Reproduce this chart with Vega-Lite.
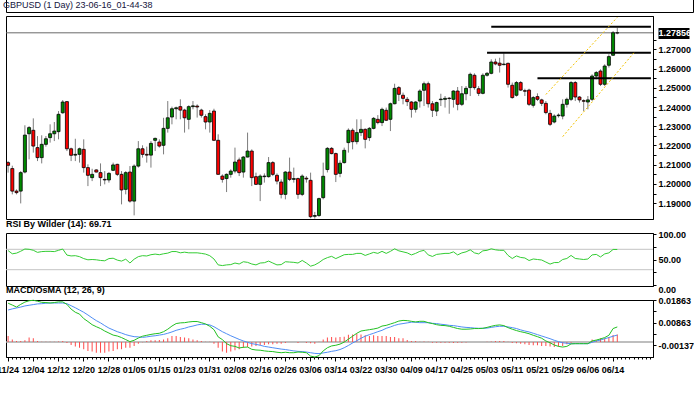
{
"$schema": "https://vega.github.io/schema/vega-lite/v6.json",
"background": "white",
"padding": {"left": -4, "top": -3, "right": 0, "bottom": 0},
"spacing": 1,
"config": {
  "view": {"stroke": "black", "strokeWidth": 1},
  "font": "Liberation Sans Narrow, Liberation Sans",
  "axis": {"labelFont": "Liberation Sans Narrow, Liberation Sans", "labelFontSize": 9, "labelFontWeight": "bold", "labelColor": "black", "tickColor": "black", "domainColor": "black", "grid": false},
  "title": {"font": "Liberation Sans Narrow, Liberation Sans", "fontSize": 9, "fontWeight": "bold", "anchor": "start", "color": "black", "offset": 1, "frame": "group"}
},
"datasets": {
"k": [
{"d":"11/24","o":1.2111,"h":1.2119,"l":1.2059,"c":1.2097,"r":67.5,"m":0.0172,"s":0.0142,"hi":0.0027},
{"d":"11/27","o":1.2080,"h":1.2095,"l":1.1946,"c":1.1963,"r":61.2,"m":0.0164,"s":0.0147,"hi":0.0012},
{"d":"11/28","o":1.1963,"h":1.1972,"l":1.1946,"c":1.1955,"r":62.5,"m":0.0155,"s":0.0151,"hi":0.0005},
{"d":"11/29","o":1.1963,"h":1.2067,"l":1.1899,"c":1.2059,"r":66.2,"m":0.0167,"s":0.0155,"hi":0.0005},
{"d":"11/30","o":1.2062,"h":1.2305,"l":1.2055,"c":1.2254,"r":70.6,"m":0.0177,"s":0.0160,"hi":0.0008},
{"d":"12/01","o":1.2261,"h":1.2301,"l":1.2128,"c":1.2293,"r":70.0,"m":0.0183,"s":0.0163,"hi":0.0020},
{"d":"12/04","o":1.2279,"h":1.2341,"l":1.2163,"c":1.2197,"r":68.1,"m":0.0185,"s":0.0166,"hi":0.0017},
{"d":"12/05","o":1.2189,"h":1.2249,"l":1.2119,"c":1.2137,"r":64.0,"m":0.0181,"s":0.0169,"hi":0.0005},
{"d":"12/06","o":1.2137,"h":1.2253,"l":1.2107,"c":1.2206,"r":65.5,"m":0.0176,"s":0.0170,"hi":0.0002},
{"d":"12/07","o":1.2206,"h":1.2249,"l":1.2194,"c":1.2235,"r":66.0,"m":0.0175,"s":0.0172,"hi":0.0002},
{"d":"12/08","o":1.2241,"h":1.2310,"l":1.2215,"c":1.2261,"r":66.0,"m":0.0173,"s":0.0173,"hi":0.0001},
{"d":"12/11","o":1.2261,"h":1.2322,"l":1.2223,"c":1.2275,"r":65.5,"m":0.0175,"s":0.0173,"hi":0.0001},
{"d":"12/12","o":1.2272,"h":1.2379,"l":1.2232,"c":1.2362,"r":68.0,"m":0.0178,"s":0.0173,"hi":0.0003},
{"d":"12/13","o":1.2370,"h":1.2436,"l":1.2365,"c":1.2426,"r":70.6,"m":0.0178,"s":0.0173,"hi":0.0005},
{"d":"12/14","o":1.2428,"h":1.2431,"l":1.2171,"c":1.2183,"r":58.7,"m":0.0167,"s":0.0170,"hi":-0.0004},
{"d":"12/15","o":1.2183,"h":1.2189,"l":1.2119,"c":1.2149,"r":57.0,"m":0.0146,"s":0.0161,"hi":-0.0013},
{"d":"12/18","o":1.2150,"h":1.2235,"l":1.2119,"c":1.2154,"r":57.5,"m":0.0132,"s":0.0152,"hi":-0.0019},
{"d":"12/19","o":1.2154,"h":1.2189,"l":1.2111,"c":1.2183,"r":55.6,"m":0.0124,"s":0.0142,"hi":-0.0025},
{"d":"12/20","o":1.2180,"h":1.2232,"l":1.2059,"c":1.2085,"r":51.8,"m":0.0104,"s":0.0132,"hi":-0.0032},
{"d":"12/21","o":1.2085,"h":1.2102,"l":1.1989,"c":1.2045,"r":49.4,"m":0.0091,"s":0.0120,"hi":-0.0039},
{"d":"12/22","o":1.2033,"h":1.2079,"l":1.2015,"c":1.2050,"r":50.0,"m":0.0077,"s":0.0107,"hi":-0.0042},
{"d":"12/25","o":1.2073,"h":1.2076,"l":1.2060,"c":1.2062,"r":49.4,"m":0.0068,"s":0.0095,"hi":-0.0047},
{"d":"12/26","o":1.2059,"h":1.2107,"l":1.1989,"c":1.2033,"r":48.1,"m":0.0060,"s":0.0085,"hi":-0.0047},
{"d":"12/27","o":1.2024,"h":1.2067,"l":1.1998,"c":1.2021,"r":47.5,"m":0.0049,"s":0.0073,"hi":-0.0047},
{"d":"12/28","o":1.2021,"h":1.2062,"l":1.2007,"c":1.2055,"r":51.8,"m":0.0040,"s":0.0062,"hi":-0.0042},
{"d":"12/29","o":1.2071,"h":1.2111,"l":1.2067,"c":1.2099,"r":52.5,"m":0.0031,"s":0.0054,"hi":-0.0039},
{"d":"01/01","o":1.2102,"h":1.2105,"l":1.2041,"c":1.2050,"r":48.8,"m":0.0027,"s":0.0046,"hi":-0.0032},
{"d":"01/02","o":1.2050,"h":1.2067,"l":1.1894,"c":1.1969,"r":46.9,"m":0.0020,"s":0.0040,"hi":-0.0032},
{"d":"01/03","o":1.1972,"h":1.2067,"l":1.1946,"c":1.2059,"r":50.6,"m":0.0011,"s":0.0033,"hi":-0.0025},
{"d":"01/04","o":1.2062,"h":1.2093,"l":1.1903,"c":1.1911,"r":43.1,"m":0.0002,"s":0.0028,"hi":-0.0025},
{"d":"01/05","o":1.1911,"h":1.2102,"l":1.1837,"c":1.2093,"r":50.6,"m":0.0008,"s":0.0024,"hi":-0.0017},
{"d":"01/08","o":1.2093,"h":1.2223,"l":1.2085,"c":1.2183,"r":55.6,"m":0.0018,"s":0.0023,"hi":-0.0007},
{"d":"01/09","o":1.2183,"h":1.2201,"l":1.2137,"c":1.2154,"r":57.5,"m":0.0026,"s":0.0021,"hi":-0.0001},
{"d":"01/10","o":1.2154,"h":1.2194,"l":1.2111,"c":1.2150,"r":56.9,"m":0.0030,"s":0.0023,"hi":0.0005},
{"d":"01/11","o":1.2150,"h":1.2223,"l":1.2085,"c":1.2211,"r":59.4,"m":0.0034,"s":0.0026,"hi":0.0008},
{"d":"01/12","o":1.2227,"h":1.2241,"l":1.2171,"c":1.2237,"r":60.6,"m":0.0037,"s":0.0028,"hi":0.0008},
{"d":"01/15","o":1.2218,"h":1.2232,"l":1.2189,"c":1.2197,"r":59.4,"m":0.0039,"s":0.0031,"hi":0.0009},
{"d":"01/16","o":1.2201,"h":1.2344,"l":1.2154,"c":1.2289,"r":61.2,"m":0.0046,"s":0.0034,"hi":0.0012},
{"d":"01/17","o":1.2289,"h":1.2431,"l":1.2267,"c":1.2344,"r":62.5,"m":0.0057,"s":0.0039,"hi":0.0017},
{"d":"01/18","o":1.2348,"h":1.2402,"l":1.2310,"c":1.2391,"r":65.6,"m":0.0071,"s":0.0045,"hi":0.0027},
{"d":"01/19","o":1.2391,"h":1.2402,"l":1.2336,"c":1.2396,"r":65.6,"m":0.0082,"s":0.0052,"hi":0.0027},
{"d":"01/22","o":1.2402,"h":1.2440,"l":1.2336,"c":1.2384,"r":63.1,"m":0.0085,"s":0.0057,"hi":0.0023},
{"d":"01/23","o":1.2384,"h":1.2391,"l":1.2267,"c":1.2344,"r":64.4,"m":0.0086,"s":0.0061,"hi":0.0020},
{"d":"01/24","o":1.2336,"h":1.2409,"l":1.2284,"c":1.2402,"r":63.1,"m":0.0089,"s":0.0067,"hi":0.0017},
{"d":"01/25","o":1.2402,"h":1.2431,"l":1.2388,"c":1.2406,"r":63.1,"m":0.0091,"s":0.0071,"hi":0.0012},
{"d":"01/26","o":1.2405,"h":1.2414,"l":1.2345,"c":1.2400,"r":63.1,"m":0.0091,"s":0.0076,"hi":0.0008},
{"d":"01/29","o":1.2384,"h":1.2391,"l":1.2345,"c":1.2357,"r":62.0,"m":0.0086,"s":0.0079,"hi":0.0005},
{"d":"01/30","o":1.2350,"h":1.2362,"l":1.2284,"c":1.2322,"r":60.6,"m":0.0080,"s":0.0079,"hi":0.0002},
{"d":"01/31","o":1.2322,"h":1.2384,"l":1.2267,"c":1.2367,"r":57.5,"m":0.0070,"s":0.0076,"hi":0.0001},
{"d":"02/01","o":1.2379,"h":1.2391,"l":1.2223,"c":1.2227,"r":51.0,"m":0.0055,"s":0.0068,"hi":-0.0007},
{"d":"02/02","o":1.2227,"h":1.2258,"l":1.2050,"c":1.2050,"r":39.4,"m":0.0023,"s":0.0057,"hi":-0.0025},
{"d":"02/05","o":1.2041,"h":1.2050,"l":1.2007,"c":1.2024,"r":38.1,"m":0.0011,"s":0.0046,"hi":-0.0042},
{"d":"02/06","o":1.2028,"h":1.2055,"l":1.1958,"c":1.2050,"r":39.4,"m":-0.0007,"s":0.0037,"hi":-0.0047},
{"d":"02/07","o":1.2050,"h":1.2076,"l":1.2033,"c":1.2067,"r":40.0,"m":-0.0016,"s":0.0028,"hi":-0.0042},
{"d":"02/08","o":1.2067,"h":1.2189,"l":1.2055,"c":1.2114,"r":43.1,"m":-0.0019,"s":0.0020,"hi":-0.0036},
{"d":"02/09","o":1.2125,"h":1.2137,"l":1.2041,"c":1.2059,"r":41.2,"m":-0.0026,"s":0.0012,"hi":-0.0032},
{"d":"02/12","o":1.2062,"h":1.2145,"l":1.2033,"c":1.2140,"r":45.6,"m":-0.0023,"s":0.0005,"hi":-0.0025},
{"d":"02/13","o":1.2140,"h":1.2267,"l":1.2138,"c":1.2171,"r":44.4,"m":-0.0022,"s":-0.0001,"hi":-0.0022},
{"d":"02/14","o":1.2171,"h":1.2180,"l":1.1989,"c":1.2033,"r":41.2,"m":-0.0032,"s":-0.0007,"hi":-0.0019},
{"d":"02/15","o":1.2038,"h":1.2059,"l":1.1995,"c":1.1998,"r":39.4,"m":-0.0035,"s":-0.0010,"hi":-0.0017},
{"d":"02/16","o":1.1998,"h":1.2050,"l":1.1911,"c":1.2041,"r":43.1,"m":-0.0036,"s":-0.0014,"hi":-0.0014},
{"d":"02/19","o":1.2038,"h":1.2055,"l":1.2007,"c":1.2041,"r":43.7,"m":-0.0039,"s":-0.0019,"hi":-0.0013},
{"d":"02/20","o":1.2038,"h":1.2140,"l":1.2033,"c":1.2111,"r":46.9,"m":-0.0041,"s":-0.0022,"hi":-0.0010},
{"d":"02/21","o":1.2111,"h":1.2119,"l":1.2041,"c":1.2050,"r":43.1,"m":-0.0042,"s":-0.0025,"hi":-0.0010},
{"d":"02/22","o":1.2045,"h":1.2055,"l":1.1998,"c":1.2015,"r":39.4,"m":-0.0045,"s":-0.0028,"hi":-0.0007},
{"d":"02/23","o":1.2010,"h":1.2024,"l":1.1925,"c":1.1946,"r":40.0,"m":-0.0047,"s":-0.0031,"hi":-0.0007},
{"d":"02/26","o":1.1946,"h":1.2067,"l":1.1920,"c":1.2062,"r":45.6,"m":-0.0045,"s":-0.0033,"hi":-0.0004},
{"d":"02/27","o":1.2062,"h":1.2137,"l":1.2015,"c":1.2024,"r":45.0,"m":-0.0047,"s":-0.0036,"hi":0.0000},
{"d":"02/28","o":1.2024,"h":1.2085,"l":1.2007,"c":1.2028,"r":44.4,"m":-0.0047,"s":-0.0039,"hi":0.0000},
{"d":"03/01","o":1.2028,"h":1.2033,"l":1.1923,"c":1.1946,"r":43.1,"m":-0.0044,"s":-0.0041,"hi":-0.0004},
{"d":"03/02","o":1.1946,"h":1.2050,"l":1.1937,"c":1.2041,"r":48.1,"m":-0.0045,"s":-0.0042,"hi":0.0000},
{"d":"03/05","o":1.2030,"h":1.2041,"l":1.2007,"c":1.2026,"r":43.1,"m":-0.0047,"s":-0.0044,"hi":-0.0004},
{"d":"03/06","o":1.2019,"h":1.2059,"l":1.1822,"c":1.1830,"r":36.9,"m":-0.0062,"s":-0.0047,"hi":-0.0005},
{"d":"03/07","o":1.1832,"h":1.1855,"l":1.1820,"c":1.1836,"r":39.4,"m":-0.0066,"s":-0.0050,"hi":-0.0007},
{"d":"03/08","o":1.1836,"h":1.1929,"l":1.1829,"c":1.1924,"r":44.0,"m":-0.0060,"s":-0.0051,"hi":0.0002},
{"d":"03/09","o":1.1929,"h":1.2111,"l":1.1920,"c":1.2040,"r":50.0,"m":-0.0039,"s":-0.0048,"hi":0.0012},
{"d":"03/12","o":1.2075,"h":1.2192,"l":1.2060,"c":1.2185,"r":53.7,"m":-0.0025,"s":-0.0045,"hi":0.0020},
{"d":"03/13","o":1.2185,"h":1.2192,"l":1.2154,"c":1.2158,"r":56.2,"m":-0.0017,"s":-0.0041,"hi":0.0023},
{"d":"03/14","o":1.2158,"h":1.2163,"l":1.2010,"c":1.2050,"r":51.8,"m":-0.0014,"s":-0.0038,"hi":0.0020},
{"d":"03/15","o":1.2055,"h":1.2123,"l":1.2035,"c":1.2108,"r":55.6,"m":-0.0009,"s":-0.0033,"hi":0.0023},
{"d":"03/16","o":1.2111,"h":1.2189,"l":1.2106,"c":1.2175,"r":59.4,"m":0.0000,"s":-0.0025,"hi":0.0024},
{"d":"03/19","o":1.2215,"h":1.2289,"l":1.2163,"c":1.2279,"r":60.0,"m":0.0013,"s":-0.0015,"hi":0.0032},
{"d":"03/20","o":1.2279,"h":1.2289,"l":1.2180,"c":1.2220,"r":60,"m":0.0026,"s":-0.0004,"hi":0.0034},
{"d":"03/21","o":1.2220,"h":1.2336,"l":1.2206,"c":1.2267,"r":62,"m":0.0039,"s":0.0006,"hi":0.0037},
{"d":"03/22","o":1.2267,"h":1.2336,"l":1.2249,"c":1.2284,"r":62,"m":0.0049,"s":0.0017,"hi":0.0034},
{"d":"03/23","o":1.2284,"h":1.2289,"l":1.2185,"c":1.2232,"r":58,"m":0.0052,"s":0.0026,"hi":0.0030},
{"d":"03/26","o":1.2241,"h":1.2296,"l":1.2223,"c":1.2289,"r":61,"m":0.0055,"s":0.0033,"hi":0.0027},
{"d":"03/27","o":1.2289,"h":1.2348,"l":1.2284,"c":1.2341,"r":64,"m":0.0058,"s":0.0039,"hi":0.0030},
{"d":"03/28","o":1.2336,"h":1.2358,"l":1.2310,"c":1.2319,"r":62,"m":0.0062,"s":0.0046,"hi":0.0027},
{"d":"03/29","o":1.2319,"h":1.2397,"l":1.2301,"c":1.2388,"r":66,"m":0.0071,"s":0.0052,"hi":0.0027},
{"d":"03/30","o":1.2383,"h":1.2397,"l":1.2327,"c":1.2331,"r":62,"m":0.0074,"s":0.0061,"hi":0.0027},
{"d":"04/02","o":1.2336,"h":1.2423,"l":1.2275,"c":1.2417,"r":66,"m":0.0080,"s":0.0067,"hi":0.0023},
{"d":"04/03","o":1.2417,"h":1.2521,"l":1.2414,"c":1.2497,"r":71,"m":0.0086,"s":0.0074,"hi":0.0023},
{"d":"04/04","o":1.2501,"h":1.2509,"l":1.2431,"c":1.2466,"r":67,"m":0.0093,"s":0.0079,"hi":0.0017},
{"d":"04/05","o":1.2461,"h":1.2475,"l":1.2414,"c":1.2445,"r":65,"m":0.0096,"s":0.0082,"hi":0.0017},
{"d":"04/06","o":1.2440,"h":1.2452,"l":1.2405,"c":1.2428,"r":63,"m":0.0095,"s":0.0085,"hi":0.0009},
{"d":"04/09","o":1.2426,"h":1.2431,"l":1.2345,"c":1.2388,"r":59,"m":0.0092,"s":0.0088,"hi":0.0005},
{"d":"04/10","o":1.2388,"h":1.2431,"l":1.2371,"c":1.2426,"r":62,"m":0.0089,"s":0.0088,"hi":0.0005},
{"d":"04/11","o":1.2431,"h":1.2492,"l":1.2397,"c":1.2483,"r":66,"m":0.0092,"s":0.0086,"hi":0.0002},
{"d":"04/12","o":1.2487,"h":1.2532,"l":1.2405,"c":1.2521,"r":68,"m":0.0092,"s":0.0086,"hi":0.0003},
{"d":"04/13","o":1.2521,"h":1.2532,"l":1.2397,"c":1.2417,"r":59,"m":0.0086,"s":0.0086,"hi":0.0001},
{"d":"04/16","o":1.2417,"h":1.2431,"l":1.2348,"c":1.2383,"r":56,"m":0.0082,"s":0.0083,"hi":-0.0003},
{"d":"04/17","o":1.2379,"h":1.2428,"l":1.2353,"c":1.2423,"r":60,"m":0.0077,"s":0.0082,"hi":-0.0003},
{"d":"04/18","o":1.2438,"h":1.2469,"l":1.2405,"c":1.2441,"r":61,"m":0.0074,"s":0.0079,"hi":-0.0003},
{"d":"04/19","o":1.2440,"h":1.2457,"l":1.2397,"c":1.2445,"r":62,"m":0.0073,"s":0.0077,"hi":-0.0003},
{"d":"04/20","o":1.2446,"h":1.2452,"l":1.2365,"c":1.2444,"r":62,"m":0.0070,"s":0.0074,"hi":-0.0003},
{"d":"04/23","o":1.2440,"h":1.2487,"l":1.2397,"c":1.2483,"r":65,"m":0.0065,"s":0.0073,"hi":-0.0004},
{"d":"04/24","o":1.2483,"h":1.2504,"l":1.2383,"c":1.2414,"r":59,"m":0.0060,"s":0.0070,"hi":-0.0003},
{"d":"04/25","o":1.2414,"h":1.2509,"l":1.2405,"c":1.2469,"r":63,"m":0.0057,"s":0.0067,"hi":-0.0003},
{"d":"04/26","o":1.2469,"h":1.2509,"l":1.2435,"c":1.2497,"r":65,"m":0.0057,"s":0.0065,"hi":-0.0002},
{"d":"04/27","o":1.2501,"h":1.2579,"l":1.2457,"c":1.2570,"r":69,"m":0.0058,"s":0.0064,"hi":0},
{"d":"04/30","o":1.2565,"h":1.2575,"l":1.2490,"c":1.2501,"r":63,"m":0.0060,"s":0.0062,"hi":0},
{"d":"05/01","o":1.2495,"h":1.2509,"l":1.2457,"c":1.2471,"r":61,"m":0.0060,"s":0.0061,"hi":0},
{"d":"05/02","o":1.2471,"h":1.2575,"l":1.2466,"c":1.2565,"r":67,"m":0.0061,"s":0.0061,"hi":0},
{"d":"05/03","o":1.2565,"h":1.2582,"l":1.2558,"c":1.2575,"r":68,"m":0.0065,"s":0.0062,"hi":0.0001},
{"d":"05/04","o":1.2575,"h":1.2648,"l":1.2570,"c":1.2634,"r":71,"m":0.0070,"s":0.0065,"hi":0.0003},
{"d":"05/07","o":1.2634,"h":1.2651,"l":1.2617,"c":1.2624,"r":69,"m":0.0074,"s":0.0068,"hi":0.0005},
{"d":"05/08","o":1.2628,"h":1.2656,"l":1.2579,"c":1.2617,"r":68,"m":0.0076,"s":0.0070,"hi":0.0005},
{"d":"05/09","o":1.2620,"h":1.2679,"l":1.2617,"c":1.2623,"r":68,"m":0.0073,"s":0.0070,"hi":0.0005},
{"d":"05/10","o":1.2627,"h":1.2631,"l":1.2501,"c":1.2518,"r":58,"m":0.0064,"s":0.0067,"hi":0.0001},
{"d":"05/11","o":1.2513,"h":1.2527,"l":1.2443,"c":1.2449,"r":52,"m":0.0057,"s":0.0064,"hi":-0.0004},
{"d":"05/14","o":1.2461,"h":1.2535,"l":1.2454,"c":1.2527,"r":57,"m":0.0051,"s":0.0060,"hi":-0.0005},
{"d":"05/15","o":1.2527,"h":1.2535,"l":1.2483,"c":1.2488,"r":54,"m":0.0046,"s":0.0054,"hi":-0.0007},
{"d":"05/16","o":1.2485,"h":1.2495,"l":1.2457,"c":1.2482,"r":53,"m":0.0042,"s":0.0049,"hi":-0.0010},
{"d":"05/17","o":1.2488,"h":1.2495,"l":1.2405,"c":1.2414,"r":48,"m":0.0037,"s":0.0045,"hi":-0.0013},
{"d":"05/18","o":1.2409,"h":1.2457,"l":1.2397,"c":1.2449,"r":51,"m":0.0030,"s":0.0039,"hi":-0.0014},
{"d":"05/21","o":1.2454,"h":1.2471,"l":1.2431,"c":1.2440,"r":50,"m":0.0024,"s":0.0033,"hi":-0.0014},
{"d":"05/22","o":1.2437,"h":1.2443,"l":1.2405,"c":1.2419,"r":49,"m":0.0017,"s":0.0027,"hi":-0.0017},
{"d":"05/23","o":1.2419,"h":1.2431,"l":1.2362,"c":1.2371,"r":45,"m":0.0005,"s":0.0021,"hi":-0.0017},
{"d":"05/24","o":1.2367,"h":1.2385,"l":1.2301,"c":1.2310,"r":41,"m":-0.0003,"s":0.0015,"hi":-0.0020},
{"d":"05/25","o":1.2322,"h":1.2362,"l":1.2315,"c":1.2353,"r":44,"m":-0.0013,"s":0.0008,"hi":-0.0022},
{"d":"05/28","o":1.2355,"h":1.2367,"l":1.2345,"c":1.2358,"r":44,"m":-0.0019,"s":0.0002,"hi":-0.0020},
{"d":"05/29","o":1.2353,"h":1.2440,"l":1.2336,"c":1.2414,"r":50,"m":-0.0022,"s":-0.0003,"hi":-0.0017},
{"d":"05/30","o":1.2414,"h":1.2449,"l":1.2397,"c":1.2440,"r":52,"m":-0.0019,"s":-0.0005,"hi":-0.0010},
{"d":"05/31","o":1.2440,"h":1.2535,"l":1.2431,"c":1.2527,"r":58,"m":-0.0008,"s":-0.0007,"hi":-0.0003},
{"d":"06/01","o":1.2527,"h":1.2535,"l":1.2431,"c":1.2452,"r":52,"m":-0.0007,"s":-0.0007,"hi":0},
{"d":"06/04","o":1.2452,"h":1.2457,"l":1.2423,"c":1.2437,"r":51,"m":-0.0007,"s":-0.0007,"hi":0},
{"d":"06/05","o":1.2433,"h":1.2440,"l":1.2379,"c":1.2430,"r":50,"m":-0.0007,"s":-0.0007,"hi":0},
{"d":"06/06","o":1.2426,"h":1.2457,"l":1.2388,"c":1.2437,"r":51,"m":-0.0007,"s":-0.0007,"hi":0},
{"d":"06/07","o":1.2440,"h":1.2570,"l":1.2431,"c":1.2561,"r":59,"m":0.0005,"s":-0.0001,"hi":0.0012},
{"d":"06/08","o":1.2561,"h":1.2587,"l":1.2544,"c":1.2579,"r":60,"m":0.0009,"s":0.0005,"hi":0.0008},
{"d":"06/11","o":1.2587,"h":1.2596,"l":1.2509,"c":1.2518,"r":55,"m":0.0014,"s":0.0009,"hi":0.0017},
{"d":"06/12","o":1.2518,"h":1.2622,"l":1.2509,"c":1.2613,"r":61,"m":0.0020,"s":0.0015,"hi":0.0017},
{"d":"06/13","o":1.2617,"h":1.2674,"l":1.2605,"c":1.2662,"r":63,"m":0.0030,"s":0.0020,"hi":0.0023},
{"d":"06/14","o":1.2669,"h":1.2795,"l":1.2665,"c":1.2786,"r":69.7,"m":0.0060,"s":0.0026,"hi":0.0031},
{"d":"06/15","o":1.2785,"h":1.2812,"l":1.2778,"c":1.27856,"r":69.71,"m":0.0067,"s":0.0031,"hi":0.0034}
],
"lv": [
{"a":"05/04","b":"06/27","p":1.2817},
{"a":"05/03","b":"06/27","p":1.2682},
{"a":"05/21","b":"06/27","p":1.2549}
],
"ch": [
{"id":"u","d":"05/23","p":1.2465},
{"id":"u","d":"06/15","p":1.2866},
{"id":"l","d":"05/29","p":1.2246},
{"id":"l","d":"06/21","p":1.2683}
]
},
"vconcat": [
{
 "width": 687, "height": 14,
 "data": {"values": [{"t": "GBPUSD (1 Day) 23-06-16_01-44-38", "p": 0}]},
 "mark": {"type": "text", "align": "left", "baseline": "middle", "fontSize": 9, "font": "Liberation Sans Narrow, Liberation Sans", "fill": "#14143c", "dx": -3},
 "encoding": {"text": {"field": "t"}, "x": {"field": "p", "type": "quantitative", "scale": {"domain": [0, 1]}, "axis": null}}
},
{
 "spacing": 14,
 "bounds": "flush",
 "vconcat": [
{
 "width": 647, "height": 203,
 "layer": [
  {"data": {"values": [{"p": 1.27856}]},
   "mark": {"type": "rule", "color": "#6a6a6a", "strokeWidth": 1},
   "encoding": {"y": {"field": "p", "type": "quantitative", "scale": {"domain": [1.1818, 1.2873], "zero": false, "nice": false},
     "axis": {"orient": "right", "values": [1.19,1.195,1.2,1.205,1.21,1.215,1.22,1.225,1.23,1.235,1.24,1.245,1.25,1.255,1.26,1.265,1.27,1.275,1.27856], "labelExpr": "(datum.value > 1.278 || abs(datum.value*100 - round(datum.value*100)) < 0.01) ? format(datum.value, '.5f') : ''", "labelOverlap": false, "title": null, "labelPadding": {"condition": {"test": "datum.value > 1.278", "value": -31}, "value": 2}, "tickSize": {"condition": {"test": "datum.value > 1.278", "value": 36}, "value": 3}, "tickWidth": {"condition": {"test": "datum.value > 1.278", "value": 11}, "value": 1}, "tickDash": {"condition": {"test": "datum.value > 1.278", "value": [0, 5, 31]}, "value": []}, "labelColor": {"condition": {"test": "datum.value > 1.278", "value": "white"}, "value": "black"}}}}},
  {"data": {"name": "k"},
   "mark": {"type": "rule", "color": "#7c7c7c", "strokeWidth": 1},
   "encoding": {
     "x": {"field": "d", "type": "ordinal", "scale": {"type": "band", "paddingInner": 0, "paddingOuter": 0, "domain": ["11/24","11/27","11/28","11/29","11/30","12/01","12/04","12/05","12/06","12/07","12/08","12/11","12/12","12/13","12/14","12/15","12/18","12/19","12/20","12/21","12/22","12/25","12/26","12/27","12/28","12/29","01/01","01/02","01/03","01/04","01/05","01/08","01/09","01/10","01/11","01/12","01/15","01/16","01/17","01/18","01/19","01/22","01/23","01/24","01/25","01/26","01/29","01/30","01/31","02/01","02/02","02/05","02/06","02/07","02/08","02/09","02/12","02/13","02/14","02/15","02/16","02/19","02/20","02/21","02/22","02/23","02/26","02/27","02/28","03/01","03/02","03/05","03/06","03/07","03/08","03/09","03/12","03/13","03/14","03/15","03/16","03/19","03/20","03/21","03/22","03/23","03/26","03/27","03/28","03/29","03/30","04/02","04/03","04/04","04/05","04/06","04/09","04/10","04/11","04/12","04/13","04/16","04/17","04/18","04/19","04/20","04/23","04/24","04/25","04/26","04/27","04/30","05/01","05/02","05/03","05/04","05/07","05/08","05/09","05/10","05/11","05/14","05/15","05/16","05/17","05/18","05/21","05/22","05/23","05/24","05/25","05/28","05/29","05/30","05/31","06/01","06/04","06/05","06/06","06/07","06/08","06/11","06/12","06/13","06/14","06/15","06/18","06/19","06/20","06/21","06/22","06/25","06/26","06/27"]}, "axis": null},
     "y": {"field": "l", "type": "quantitative", "scale": {"domain": [1.1818, 1.2873], "zero": false, "nice": false},
       "axis": {"orient": "right", "values": [1.19,1.195,1.2,1.205,1.21,1.215,1.22,1.225,1.23,1.235,1.24,1.245,1.25,1.255,1.26,1.265,1.27,1.275,1.27856], "labelExpr": "(datum.value > 1.278 || abs(datum.value*100 - round(datum.value*100)) < 0.01) ? format(datum.value, '.5f') : ''", "labelOverlap": false, "title": null, "labelPadding": {"condition": {"test": "datum.value > 1.278", "value": -31}, "value": 2}, "tickSize": {"condition": {"test": "datum.value > 1.278", "value": 36}, "value": 3}, "tickWidth": {"condition": {"test": "datum.value > 1.278", "value": 11}, "value": 1}, "tickDash": {"condition": {"test": "datum.value > 1.278", "value": [0, 5, 31]}, "value": []}, "labelColor": {"condition": {"test": "datum.value > 1.278", "value": "white"}, "value": "black"}}},
     "y2": {"field": "h"}}},
  {"data": {"name": "k"},
   "mark": {"type": "bar", "size": 3, "stroke": "black", "strokeWidth": 0.8},
   "encoding": {
     "x": {"field": "d", "type": "ordinal", "scale": {"type": "band", "paddingInner": 0, "paddingOuter": 0, "domain": ["11/24","11/27","11/28","11/29","11/30","12/01","12/04","12/05","12/06","12/07","12/08","12/11","12/12","12/13","12/14","12/15","12/18","12/19","12/20","12/21","12/22","12/25","12/26","12/27","12/28","12/29","01/01","01/02","01/03","01/04","01/05","01/08","01/09","01/10","01/11","01/12","01/15","01/16","01/17","01/18","01/19","01/22","01/23","01/24","01/25","01/26","01/29","01/30","01/31","02/01","02/02","02/05","02/06","02/07","02/08","02/09","02/12","02/13","02/14","02/15","02/16","02/19","02/20","02/21","02/22","02/23","02/26","02/27","02/28","03/01","03/02","03/05","03/06","03/07","03/08","03/09","03/12","03/13","03/14","03/15","03/16","03/19","03/20","03/21","03/22","03/23","03/26","03/27","03/28","03/29","03/30","04/02","04/03","04/04","04/05","04/06","04/09","04/10","04/11","04/12","04/13","04/16","04/17","04/18","04/19","04/20","04/23","04/24","04/25","04/26","04/27","04/30","05/01","05/02","05/03","05/04","05/07","05/08","05/09","05/10","05/11","05/14","05/15","05/16","05/17","05/18","05/21","05/22","05/23","05/24","05/25","05/28","05/29","05/30","05/31","06/01","06/04","06/05","06/06","06/07","06/08","06/11","06/12","06/13","06/14","06/15","06/18","06/19","06/20","06/21","06/22","06/25","06/26","06/27"]}, "axis": null},
     "y": {"field": "o", "type": "quantitative", "scale": {"domain": [1.1818, 1.2873], "zero": false, "nice": false},
       "axis": {"orient": "right", "values": [1.19,1.195,1.2,1.205,1.21,1.215,1.22,1.225,1.23,1.235,1.24,1.245,1.25,1.255,1.26,1.265,1.27,1.275,1.27856], "labelExpr": "(datum.value > 1.278 || abs(datum.value*100 - round(datum.value*100)) < 0.01) ? format(datum.value, '.5f') : ''", "labelOverlap": false, "title": null, "labelPadding": {"condition": {"test": "datum.value > 1.278", "value": -31}, "value": 2}, "tickSize": {"condition": {"test": "datum.value > 1.278", "value": 36}, "value": 3}, "tickWidth": {"condition": {"test": "datum.value > 1.278", "value": 11}, "value": 1}, "tickDash": {"condition": {"test": "datum.value > 1.278", "value": [0, 5, 31]}, "value": []}, "labelColor": {"condition": {"test": "datum.value > 1.278", "value": "white"}, "value": "black"}}},
     "y2": {"field": "c"},
     "color": {"condition": {"test": "datum.c >= datum.o", "value": "#008a00"}, "value": "#ff0000"}}},
  {"data": {"name": "lv"},
   "mark": {"type": "rule", "color": "black", "strokeWidth": 2},
   "encoding": {
     "x": {"field": "a", "type": "ordinal", "scale": {"type": "band", "paddingInner": 0, "paddingOuter": 0, "domain": ["11/24","11/27","11/28","11/29","11/30","12/01","12/04","12/05","12/06","12/07","12/08","12/11","12/12","12/13","12/14","12/15","12/18","12/19","12/20","12/21","12/22","12/25","12/26","12/27","12/28","12/29","01/01","01/02","01/03","01/04","01/05","01/08","01/09","01/10","01/11","01/12","01/15","01/16","01/17","01/18","01/19","01/22","01/23","01/24","01/25","01/26","01/29","01/30","01/31","02/01","02/02","02/05","02/06","02/07","02/08","02/09","02/12","02/13","02/14","02/15","02/16","02/19","02/20","02/21","02/22","02/23","02/26","02/27","02/28","03/01","03/02","03/05","03/06","03/07","03/08","03/09","03/12","03/13","03/14","03/15","03/16","03/19","03/20","03/21","03/22","03/23","03/26","03/27","03/28","03/29","03/30","04/02","04/03","04/04","04/05","04/06","04/09","04/10","04/11","04/12","04/13","04/16","04/17","04/18","04/19","04/20","04/23","04/24","04/25","04/26","04/27","04/30","05/01","05/02","05/03","05/04","05/07","05/08","05/09","05/10","05/11","05/14","05/15","05/16","05/17","05/18","05/21","05/22","05/23","05/24","05/25","05/28","05/29","05/30","05/31","06/01","06/04","06/05","06/06","06/07","06/08","06/11","06/12","06/13","06/14","06/15","06/18","06/19","06/20","06/21","06/22","06/25","06/26","06/27"]}, "axis": null},
     "x2": {"field": "b"},
     "y": {"field": "p", "type": "quantitative", "scale": {"domain": [1.1818, 1.2873], "zero": false, "nice": false},
       "axis": {"orient": "right", "values": [1.19,1.195,1.2,1.205,1.21,1.215,1.22,1.225,1.23,1.235,1.24,1.245,1.25,1.255,1.26,1.265,1.27,1.275,1.27856], "labelExpr": "(datum.value > 1.278 || abs(datum.value*100 - round(datum.value*100)) < 0.01) ? format(datum.value, '.5f') : ''", "labelOverlap": false, "title": null, "labelPadding": {"condition": {"test": "datum.value > 1.278", "value": -31}, "value": 2}, "tickSize": {"condition": {"test": "datum.value > 1.278", "value": 36}, "value": 3}, "tickWidth": {"condition": {"test": "datum.value > 1.278", "value": 11}, "value": 1}, "tickDash": {"condition": {"test": "datum.value > 1.278", "value": [0, 5, 31]}, "value": []}, "labelColor": {"condition": {"test": "datum.value > 1.278", "value": "white"}, "value": "black"}}}}},
  {"data": {"name": "ch"},
   "mark": {"type": "line", "color": "#f2c200", "strokeWidth": 1, "strokeDash": [2, 2]},
   "encoding": {
     "x": {"field": "d", "type": "ordinal", "scale": {"type": "band", "paddingInner": 0, "paddingOuter": 0, "domain": ["11/24","11/27","11/28","11/29","11/30","12/01","12/04","12/05","12/06","12/07","12/08","12/11","12/12","12/13","12/14","12/15","12/18","12/19","12/20","12/21","12/22","12/25","12/26","12/27","12/28","12/29","01/01","01/02","01/03","01/04","01/05","01/08","01/09","01/10","01/11","01/12","01/15","01/16","01/17","01/18","01/19","01/22","01/23","01/24","01/25","01/26","01/29","01/30","01/31","02/01","02/02","02/05","02/06","02/07","02/08","02/09","02/12","02/13","02/14","02/15","02/16","02/19","02/20","02/21","02/22","02/23","02/26","02/27","02/28","03/01","03/02","03/05","03/06","03/07","03/08","03/09","03/12","03/13","03/14","03/15","03/16","03/19","03/20","03/21","03/22","03/23","03/26","03/27","03/28","03/29","03/30","04/02","04/03","04/04","04/05","04/06","04/09","04/10","04/11","04/12","04/13","04/16","04/17","04/18","04/19","04/20","04/23","04/24","04/25","04/26","04/27","04/30","05/01","05/02","05/03","05/04","05/07","05/08","05/09","05/10","05/11","05/14","05/15","05/16","05/17","05/18","05/21","05/22","05/23","05/24","05/25","05/28","05/29","05/30","05/31","06/01","06/04","06/05","06/06","06/07","06/08","06/11","06/12","06/13","06/14","06/15","06/18","06/19","06/20","06/21","06/22","06/25","06/26","06/27"]}, "axis": null},
     "y": {"field": "p", "type": "quantitative", "scale": {"domain": [1.1818, 1.2873], "zero": false, "nice": false},
       "axis": {"orient": "right", "values": [1.19,1.195,1.2,1.205,1.21,1.215,1.22,1.225,1.23,1.235,1.24,1.245,1.25,1.255,1.26,1.265,1.27,1.275,1.27856], "labelExpr": "(datum.value > 1.278 || abs(datum.value*100 - round(datum.value*100)) < 0.01) ? format(datum.value, '.5f') : ''", "labelOverlap": false, "title": null, "labelPadding": {"condition": {"test": "datum.value > 1.278", "value": -31}, "value": 2}, "tickSize": {"condition": {"test": "datum.value > 1.278", "value": 36}, "value": 3}, "tickWidth": {"condition": {"test": "datum.value > 1.278", "value": 11}, "value": 1}, "tickDash": {"condition": {"test": "datum.value > 1.278", "value": [0, 5, 31]}, "value": []}, "labelColor": {"condition": {"test": "datum.value > 1.278", "value": "white"}, "value": "black"}}},
     "detail": {"field": "id"}}}
 ]
},
{
 "width": 647, "height": 53,
 "title": {"text": "RSI By Wilder (14): 69.71"},
 "layer": [
  {"data": {"values": [{"v": 70}, {"v": 30}]},
   "mark": {"type": "rule", "color": "#c4c4c4", "strokeWidth": 1},
   "encoding": {"y": {"field": "v", "type": "quantitative", "scale": {"domain": [-2, 102], "zero": false, "nice": false},
     "axis": {"orient": "right", "values": [0, 25, 50, 75, 100], "labelExpr": "(datum.value == 50 || datum.value == 100) ? format(datum.value, '.2f') : ''", "labelOverlap": false, "tickSize": 3, "labelPadding": 2, "title": "0.00", "titleAngle": 0, "titleX": 5, "titleY": 56, "titleAlign": "left", "titleBaseline": "middle", "titleFont": "Liberation Sans Narrow, Liberation Sans", "titleFontSize": 9, "titleFontWeight": "bold", "titleColor": "black", "titlePadding": 0}}}},
  {"data": {"name": "k"},
   "mark": {"type": "line", "color": "#33cc33", "strokeWidth": 1},
   "encoding": {
     "x": {"field": "d", "type": "ordinal", "scale": {"type": "band", "paddingInner": 0, "paddingOuter": 0, "domain": ["11/24","11/27","11/28","11/29","11/30","12/01","12/04","12/05","12/06","12/07","12/08","12/11","12/12","12/13","12/14","12/15","12/18","12/19","12/20","12/21","12/22","12/25","12/26","12/27","12/28","12/29","01/01","01/02","01/03","01/04","01/05","01/08","01/09","01/10","01/11","01/12","01/15","01/16","01/17","01/18","01/19","01/22","01/23","01/24","01/25","01/26","01/29","01/30","01/31","02/01","02/02","02/05","02/06","02/07","02/08","02/09","02/12","02/13","02/14","02/15","02/16","02/19","02/20","02/21","02/22","02/23","02/26","02/27","02/28","03/01","03/02","03/05","03/06","03/07","03/08","03/09","03/12","03/13","03/14","03/15","03/16","03/19","03/20","03/21","03/22","03/23","03/26","03/27","03/28","03/29","03/30","04/02","04/03","04/04","04/05","04/06","04/09","04/10","04/11","04/12","04/13","04/16","04/17","04/18","04/19","04/20","04/23","04/24","04/25","04/26","04/27","04/30","05/01","05/02","05/03","05/04","05/07","05/08","05/09","05/10","05/11","05/14","05/15","05/16","05/17","05/18","05/21","05/22","05/23","05/24","05/25","05/28","05/29","05/30","05/31","06/01","06/04","06/05","06/06","06/07","06/08","06/11","06/12","06/13","06/14","06/15","06/18","06/19","06/20","06/21","06/22","06/25","06/26","06/27"]}, "axis": null},
     "y": {"field": "r", "type": "quantitative", "scale": {"domain": [-2, 102], "zero": false, "nice": false},
       "axis": {"orient": "right", "values": [0, 25, 50, 75, 100], "labelExpr": "(datum.value == 50 || datum.value == 100) ? format(datum.value, '.2f') : ''", "labelOverlap": false, "tickSize": 3, "labelPadding": 2, "title": "0.00", "titleAngle": 0, "titleX": 5, "titleY": 56, "titleAlign": "left", "titleBaseline": "middle", "titleFont": "Liberation Sans Narrow, Liberation Sans", "titleFontSize": 9, "titleFontWeight": "bold", "titleColor": "black", "titlePadding": 0}}}}
 ]
},
{
 "width": 647, "height": 57,
 "title": {"text": "MACD/OsMA (12, 26, 9)"},
 "layer": [
  {"data": {"values": [{"z": 0}]},
   "mark": {"type": "rule", "color": "#a8a8a8", "strokeWidth": 1.5},
   "encoding": {"y": {"field": "z", "type": "quantitative", "scale": {"domain": [-0.0066, 0.01863], "zero": false, "nice": false},
     "axis": {"orient": "right", "values": [0.01863, 0.01363, 0.00863, 0.00363, -0.00137], "labelExpr": "(abs(datum.value - 0.01863) < 0.000001 || abs(datum.value - 0.00863) < 0.000001 || abs(datum.value + 0.00137) < 0.000001) ? replace(format(datum.value, '.5f'), '\u2212', '-') : ''", "labelOverlap": false, "tickSize": 3, "labelPadding": 2, "title": null}}}},
  {"data": {"name": "k"},
   "mark": {"type": "bar", "size": 1, "color": "#ff4a4a"},
   "encoding": {
     "x": {"field": "d", "type": "ordinal", "scale": {"type": "band", "paddingInner": 0, "paddingOuter": 0, "domain": ["11/24","11/27","11/28","11/29","11/30","12/01","12/04","12/05","12/06","12/07","12/08","12/11","12/12","12/13","12/14","12/15","12/18","12/19","12/20","12/21","12/22","12/25","12/26","12/27","12/28","12/29","01/01","01/02","01/03","01/04","01/05","01/08","01/09","01/10","01/11","01/12","01/15","01/16","01/17","01/18","01/19","01/22","01/23","01/24","01/25","01/26","01/29","01/30","01/31","02/01","02/02","02/05","02/06","02/07","02/08","02/09","02/12","02/13","02/14","02/15","02/16","02/19","02/20","02/21","02/22","02/23","02/26","02/27","02/28","03/01","03/02","03/05","03/06","03/07","03/08","03/09","03/12","03/13","03/14","03/15","03/16","03/19","03/20","03/21","03/22","03/23","03/26","03/27","03/28","03/29","03/30","04/02","04/03","04/04","04/05","04/06","04/09","04/10","04/11","04/12","04/13","04/16","04/17","04/18","04/19","04/20","04/23","04/24","04/25","04/26","04/27","04/30","05/01","05/02","05/03","05/04","05/07","05/08","05/09","05/10","05/11","05/14","05/15","05/16","05/17","05/18","05/21","05/22","05/23","05/24","05/25","05/28","05/29","05/30","05/31","06/01","06/04","06/05","06/06","06/07","06/08","06/11","06/12","06/13","06/14","06/15","06/18","06/19","06/20","06/21","06/22","06/25","06/26","06/27"]},
       "axis": {"orient": "bottom", "labelAngle": 0, "labelOverlap": false, "labelPadding": 4, "title": null, "labelBaseline": "top", "labelExpr": "indexof(['11/24','12/04','12/12','12/20','12/28','01/05','01/15','01/23','01/31','02/08','02/16','02/26','03/06','03/14','03/22','03/30','04/09','04/17','04/25','05/03','05/11','05/21','05/29','06/06','06/14'], datum.value) >= 0 ? datum.value : ''", "tickSize": {"condition": {"test": "indexof(['11/24','12/04','12/12','12/20','12/28','01/05','01/15','01/23','01/31','02/08','02/16','02/26','03/06','03/14','03/22','03/30','04/09','04/17','04/25','05/03','05/11','05/21','05/29','06/06','06/14'], datum.value) >= 0", "value": 4}, "value": 2}}},
     "y": {"field": "hi", "type": "quantitative", "scale": {"domain": [-0.0066, 0.01863], "zero": false, "nice": false},
       "axis": {"orient": "right", "values": [0.01863, 0.01363, 0.00863, 0.00363, -0.00137], "labelExpr": "(abs(datum.value - 0.01863) < 0.000001 || abs(datum.value - 0.00863) < 0.000001 || abs(datum.value + 0.00137) < 0.000001) ? replace(format(datum.value, '.5f'), '\u2212', '-') : ''", "labelOverlap": false, "tickSize": 3, "labelPadding": 2, "title": null}},
     "y2": {"datum": 0}}},
  {"data": {"name": "k"},
   "mark": {"type": "line", "color": "#4f8ef5", "strokeWidth": 1},
   "encoding": {
     "x": {"field": "d", "type": "ordinal", "scale": {"type": "band", "paddingInner": 0, "paddingOuter": 0, "domain": ["11/24","11/27","11/28","11/29","11/30","12/01","12/04","12/05","12/06","12/07","12/08","12/11","12/12","12/13","12/14","12/15","12/18","12/19","12/20","12/21","12/22","12/25","12/26","12/27","12/28","12/29","01/01","01/02","01/03","01/04","01/05","01/08","01/09","01/10","01/11","01/12","01/15","01/16","01/17","01/18","01/19","01/22","01/23","01/24","01/25","01/26","01/29","01/30","01/31","02/01","02/02","02/05","02/06","02/07","02/08","02/09","02/12","02/13","02/14","02/15","02/16","02/19","02/20","02/21","02/22","02/23","02/26","02/27","02/28","03/01","03/02","03/05","03/06","03/07","03/08","03/09","03/12","03/13","03/14","03/15","03/16","03/19","03/20","03/21","03/22","03/23","03/26","03/27","03/28","03/29","03/30","04/02","04/03","04/04","04/05","04/06","04/09","04/10","04/11","04/12","04/13","04/16","04/17","04/18","04/19","04/20","04/23","04/24","04/25","04/26","04/27","04/30","05/01","05/02","05/03","05/04","05/07","05/08","05/09","05/10","05/11","05/14","05/15","05/16","05/17","05/18","05/21","05/22","05/23","05/24","05/25","05/28","05/29","05/30","05/31","06/01","06/04","06/05","06/06","06/07","06/08","06/11","06/12","06/13","06/14","06/15","06/18","06/19","06/20","06/21","06/22","06/25","06/26","06/27"]},
       "axis": {"orient": "bottom", "labelAngle": 0, "labelOverlap": false, "labelPadding": 4, "title": null, "labelBaseline": "top", "labelExpr": "indexof(['11/24','12/04','12/12','12/20','12/28','01/05','01/15','01/23','01/31','02/08','02/16','02/26','03/06','03/14','03/22','03/30','04/09','04/17','04/25','05/03','05/11','05/21','05/29','06/06','06/14'], datum.value) >= 0 ? datum.value : ''", "tickSize": {"condition": {"test": "indexof(['11/24','12/04','12/12','12/20','12/28','01/05','01/15','01/23','01/31','02/08','02/16','02/26','03/06','03/14','03/22','03/30','04/09','04/17','04/25','05/03','05/11','05/21','05/29','06/06','06/14'], datum.value) >= 0", "value": 4}, "value": 2}}},
     "y": {"field": "s", "type": "quantitative", "scale": {"domain": [-0.0066, 0.01863], "zero": false, "nice": false},
       "axis": {"orient": "right", "values": [0.01863, 0.01363, 0.00863, 0.00363, -0.00137], "labelExpr": "(abs(datum.value - 0.01863) < 0.000001 || abs(datum.value - 0.00863) < 0.000001 || abs(datum.value + 0.00137) < 0.000001) ? replace(format(datum.value, '.5f'), '\u2212', '-') : ''", "labelOverlap": false, "tickSize": 3, "labelPadding": 2, "title": null}}}},
  {"data": {"name": "k"},
   "mark": {"type": "line", "color": "#22c022", "strokeWidth": 1},
   "encoding": {
     "x": {"field": "d", "type": "ordinal", "scale": {"type": "band", "paddingInner": 0, "paddingOuter": 0, "domain": ["11/24","11/27","11/28","11/29","11/30","12/01","12/04","12/05","12/06","12/07","12/08","12/11","12/12","12/13","12/14","12/15","12/18","12/19","12/20","12/21","12/22","12/25","12/26","12/27","12/28","12/29","01/01","01/02","01/03","01/04","01/05","01/08","01/09","01/10","01/11","01/12","01/15","01/16","01/17","01/18","01/19","01/22","01/23","01/24","01/25","01/26","01/29","01/30","01/31","02/01","02/02","02/05","02/06","02/07","02/08","02/09","02/12","02/13","02/14","02/15","02/16","02/19","02/20","02/21","02/22","02/23","02/26","02/27","02/28","03/01","03/02","03/05","03/06","03/07","03/08","03/09","03/12","03/13","03/14","03/15","03/16","03/19","03/20","03/21","03/22","03/23","03/26","03/27","03/28","03/29","03/30","04/02","04/03","04/04","04/05","04/06","04/09","04/10","04/11","04/12","04/13","04/16","04/17","04/18","04/19","04/20","04/23","04/24","04/25","04/26","04/27","04/30","05/01","05/02","05/03","05/04","05/07","05/08","05/09","05/10","05/11","05/14","05/15","05/16","05/17","05/18","05/21","05/22","05/23","05/24","05/25","05/28","05/29","05/30","05/31","06/01","06/04","06/05","06/06","06/07","06/08","06/11","06/12","06/13","06/14","06/15","06/18","06/19","06/20","06/21","06/22","06/25","06/26","06/27"]},
       "axis": {"orient": "bottom", "labelAngle": 0, "labelOverlap": false, "labelPadding": 4, "title": null, "labelBaseline": "top", "labelExpr": "indexof(['11/24','12/04','12/12','12/20','12/28','01/05','01/15','01/23','01/31','02/08','02/16','02/26','03/06','03/14','03/22','03/30','04/09','04/17','04/25','05/03','05/11','05/21','05/29','06/06','06/14'], datum.value) >= 0 ? datum.value : ''", "tickSize": {"condition": {"test": "indexof(['11/24','12/04','12/12','12/20','12/28','01/05','01/15','01/23','01/31','02/08','02/16','02/26','03/06','03/14','03/22','03/30','04/09','04/17','04/25','05/03','05/11','05/21','05/29','06/06','06/14'], datum.value) >= 0", "value": 4}, "value": 2}}},
     "y": {"field": "m", "type": "quantitative", "scale": {"domain": [-0.0066, 0.01863], "zero": false, "nice": false},
       "axis": {"orient": "right", "values": [0.01863, 0.01363, 0.00863, 0.00363, -0.00137], "labelExpr": "(abs(datum.value - 0.01863) < 0.000001 || abs(datum.value - 0.00863) < 0.000001 || abs(datum.value + 0.00137) < 0.000001) ? replace(format(datum.value, '.5f'), '\u2212', '-') : ''", "labelOverlap": false, "tickSize": 3, "labelPadding": 2, "title": null}}}}
 ]
}
 ]
}
]
}
